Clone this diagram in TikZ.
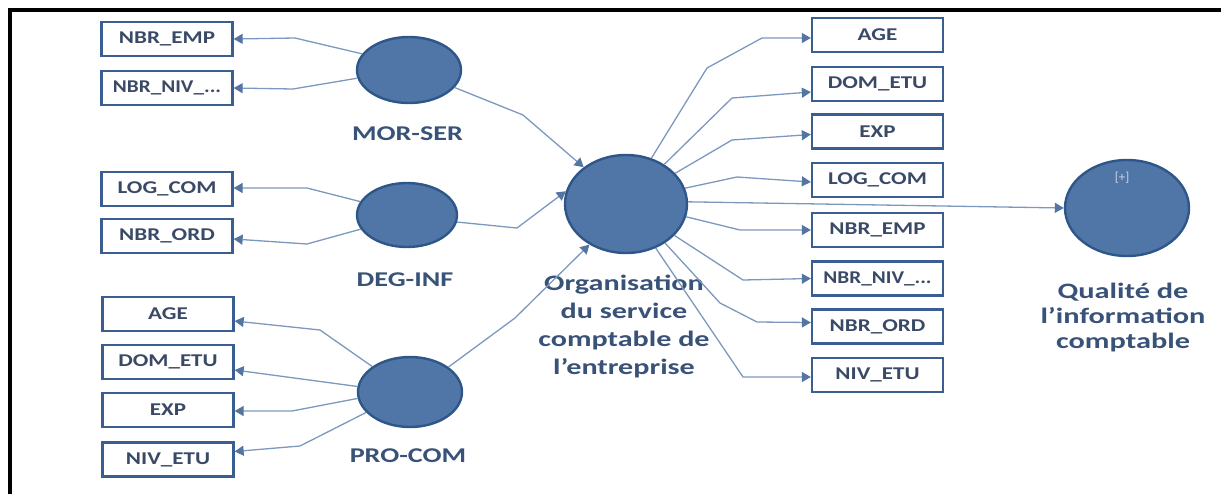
\documentclass[tikz,border=0pt]{standalone}
\usepackage{fontspec}
\setmainfont{Carlito}
\usepackage{graphicx}
\usetikzlibrary{arrows.meta,shapes.geometric}
\definecolor{ellfill}{RGB}{80,118,168}
\definecolor{elldraw}{RGB}{46,86,136}
\definecolor{boxdraw}{RGB}{58,94,145}
\definecolor{boxtext}{RGB}{58,74,102}
\definecolor{labtext}{RGB}{56,82,120}
\definecolor{conncol}{RGB}{125,152,190}
\definecolor{tipcol}{RGB}{84,116,162}
\definecolor{plustext}{RGB}{200,214,236}
\newcommand{\wx}[2][1.28]{\scalebox{#1}[1]{#2}}
\begin{document}
\begin{tikzpicture}[x=1pt,y=-1pt,
  latent/.style={ellipse, draw=elldraw, fill=ellfill, line width=2.4pt, inner sep=0pt},
  ind/.style={rectangle, draw=boxdraw, line width=2.3pt, minimum width=131pt, minimum height=34pt, inner sep=0pt, text=boxtext, font=\fontsize{18}{18}\selectfont\bfseries},
  lab/.style={text=labtext, font=\fontsize{21}{21}\selectfont\bfseries, inner sep=0pt},
  cn/.style={draw=conncol, line width=1.3pt, -{Triangle[length=9pt,width=10pt,color=tipcol]}}]
\useasboundingbox (0,0) rectangle (1221,493);
\draw[line width=4pt] (10,495) -- (10,9.5) -- (1225,9.5);

% latent variables
\node[latent, minimum width=104pt, minimum height=66pt] (mor) at (409,70) {};
\node[latent, minimum width=100pt, minimum height=64pt] (deg) at (407,215) {};
\node[latent, minimum width=104pt, minimum height=70pt] (pro) at (410,392) {};
\node[latent, minimum width=122pt, minimum height=98pt] (org) at (626,204) {};
\node[latent, minimum width=124pt, minimum height=96pt] (qual) at (1127,208) {};

\node[text=plustext, font=\fontsize{13}{13}\selectfont, inner sep=0pt] (plus) at (1122,178) {[+]};

% labels
\node[lab] (lmor) at (407.5,134) {\wx[1.34]{MOR-SER}};
\node[lab] (ldeg) at (405,279.5) {\wx[1.34]{DEG-INF}};
\node[lab] (lpro) at (408,456) {\wx[1.34]{PRO-COM}};
\node[lab, align=center, font=\fontsize{22}{28}\selectfont\bfseries] (lorg) at (624,326)
  {\wx[1.37]{Organisation}\\\wx[1.37]{du service}\\\wx[1.37]{comptable de}\\\wx[1.37]{l'entreprise}};
\node[lab, align=center, font=\fontsize{22}{25}\selectfont\bfseries] (lqual) at (1123,318)
  {\wx[1.38]{Qualité de}\\\wx[1.38]{l'information}\\\wx[1.38]{comptable}};

% left indicators
\node[ind] (lemp) at (167,39) {\wx{NBR\_EMP}};
\node[ind] (lniv) at (167,88) {\wx[1.18]{NBR\_NIV\_...}};
\node[ind] (llog) at (167,189) {\wx{LOG\_COM}};
\node[ind] (lord) at (167,236) {\wx{NBR\_ORD}};
\node[ind] (lage) at (168,314) {\wx{AGE}};
\node[ind] (ldom) at (168,362) {\wx{DOM\_ETU}};
\node[ind] (lexp) at (168,410) {\wx{EXP}};
\node[ind] (lnivetu) at (168,459.5) {\wx{NIV\_ETU}};

% right indicators
\node[ind] (rage) at (877.5,35) {\wx{AGE}};
\node[ind] (rdom) at (877.5,84) {\wx{DOM\_ETU}};
\node[ind] (rexp) at (877.5,131.5) {\wx{EXP}};
\node[ind] (rlog) at (877.5,180) {\wx{LOG\_COM}};
\node[ind] (remp) at (877.5,230) {\wx{NBR\_EMP}};
\node[ind] (rniv) at (877.5,278.5) {\wx[1.18]{NBR\_NIV\_...}};
\node[ind] (rord) at (877.5,326.5) {\wx{NBR\_ORD}};
\node[ind] (rnivetu) at (877.5,375) {\wx{NIV\_ETU}};

% left connectors
\draw[cn] (mor.161) -- (295,38) -- (lemp.east);
\draw[cn] (mor.189) -- (293,89) -- (lniv.east);
\draw[cn] (deg.164) -- (307,188) -- ([yshift=1pt]llog.east);
\draw[cn] (deg.197) -- (307,244) -- ([yshift=-3pt]lord.east);
\draw[cn] (pro.146) -- (320,330) -- ([yshift=-7pt]lage.east);
\draw[cn] (pro.174) -- ([yshift=-8pt]ldom.east);
\draw[cn] (pro.187) -- (292,411) -- ([yshift=-1pt]lexp.east);
\draw[cn] (pro.205) -- (300,446) -- ([yshift=8pt]lnivetu.east);

% into the central construct
\draw[cn] (mor.339) -- (523,115) -- (org.139);
\draw[cn] (deg.352) -- (517,228) -- (org.168);
\draw[cn] (pro.33) -- (515,318) -- (org.228);

% central construct outwards
\draw[cn] (org.61) -- (707,68) -- (762,38) -- ([yshift=-3pt]rage.west);
\draw[cn] (org.46) -- (732,98) -- ([yshift=-8pt]rdom.west);
\draw[cn] (org.32) -- (732,140) -- ([yshift=-3pt]rexp.west);
\draw[cn] (org.15) -- (737,177) -- ([yshift=-2pt]rlog.west);
\draw[cn] (org.2) -- (qual.west);
\draw[cn] (org.348) -- (740,230) -- (remp.west);
\draw[cn] (org.327) -- (743,280) -- (rniv.west);
\draw[cn] (org.315) -- (720,303) -- (757,322) -- ([yshift=4pt]rord.west);
\draw[cn] (org.304) -- (743,377) -- ([yshift=-2pt]rnivetu.west);
\end{tikzpicture}
\end{document}
